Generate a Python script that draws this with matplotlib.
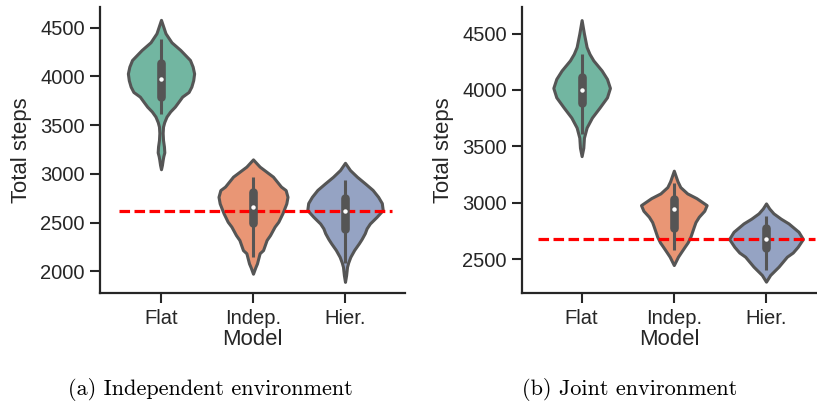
"""
Violin plots of total steps per model, for the independent and joint
environments, with the baseline drawn as a red dashed line.
"""
import matplotlib
matplotlib.use("Agg")
import matplotlib.pyplot as plt
import seaborn as sns

MODELS = ["Flat", "Indep.", "Hier."]

# density profiles: (total steps, half width in category units)
INDEP_FLAT_Y = [4580, 4442, 4350, 4271, 4168, 4100, 4030, 3960, 3895, 3840, 3792, 3740,
                3689, 3640, 3587, 3530, 3484, 3420, 3347, 3280, 3220, 3180, 3142, 3090, 3047]
INDEP_FLAT_W = [0.0, 0.049, 0.114, 0.21, 0.315, 0.344, 0.36, 0.35, 0.33, 0.30, 0.23, 0.19,
                0.15, 0.10, 0.06, 0.035, 0.022, 0.018, 0.022, 0.032, 0.036, 0.025, 0.018, 0.01, 0.0]
INDEP_INDEP_Y = [3148, 3074, 2971, 2869, 2833, 2764, 2696, 2595, 2508, 2458, 2371, 2321,
                 2217, 2185, 2080, 2040, 1975]
INDEP_INDEP_W = [0.0, 0.072, 0.217, 0.304, 0.355, 0.375, 0.362, 0.32, 0.275, 0.235, 0.185, 0.148,
                 0.109, 0.072, 0.043, 0.025, 0.0]
INDEP_HIER_Y = [3113, 3039, 2970, 2902, 2835, 2764, 2700, 2628, 2559, 2490, 2440, 2390,
                2330, 2286, 2219, 2148, 2090, 2045, 1960, 1891]
INDEP_HIER_W = [0.0, 0.054, 0.13, 0.217, 0.30, 0.36, 0.40, 0.41, 0.344, 0.27, 0.235, 0.215,
                0.18, 0.15, 0.10, 0.058, 0.035, 0.022, 0.012, 0.0]

JOINT_FLAT_Y = [4619, 4500, 4381, 4320, 4262, 4173, 4098, 4018, 3935, 3845, 3756, 3667,
                3577, 3488, 3414]
JOINT_FLAT_W = [0.0, 0.025, 0.054, 0.085, 0.127, 0.217, 0.275, 0.307, 0.275, 0.195, 0.112, 0.054,
                0.025, 0.018, 0.0]
JOINT_INDEP_Y = [3285, 3191, 3140, 3084, 3042, 2980, 2930, 2877, 2830, 2789, 2700, 2650,
                 2611, 2560, 2523, 2449]
JOINT_INDEP_W = [0.0, 0.04, 0.07, 0.145, 0.245, 0.356, 0.33, 0.271, 0.235, 0.217, 0.18, 0.15,
                 0.117, 0.075, 0.045, 0.0]
JOINT_HIER_Y = [2995, 2950, 2907, 2860, 2818, 2744, 2680, 2611, 2560, 2523, 2435, 2361, 2302]
JOINT_HIER_W = [0.0, 0.035, 0.081, 0.16, 0.244, 0.352, 0.40, 0.344, 0.29, 0.226, 0.136, 0.045, 0.0]

# inner box: whisker low/high, q1/q3, median
INDEP_WHISK = [(3611, 4384), (2148, 2970), (2080, 2936)]
INDEP_BOX = [(3792, 4134), (2497, 2816), (2430, 2754)]
INDEP_MED = [3973, 2662, 2621]
JOINT_WHISK = [(3607, 4321), (2582, 3172), (2405, 2883)]
JOINT_BOX = [(3881, 4119), (2774, 3031), (2597, 2774)]
JOINT_MED = [4000, 2942, 2680]

INDEP_BASELINE = 2622
JOINT_BASELINE = 2680

EDGE = "#555555"
TEXT = "#262626"


def draw_panel(ax, profiles, whisk, box, med, baseline, line_span, colors):
    stats = []
    for ys, ws in profiles:
        stats.append({"coords": ys, "vals": ws, "mean": 0, "median": 0,
                      "min": min(ys), "max": max(ys)})
    widths = [2 * max(ws) for _, ws in profiles]
    parts = ax.violin(stats, positions=range(len(profiles)), widths=widths,
                      showmeans=False, showextrema=False, showmedians=False)
    for body, c in zip(parts["bodies"], colors):
        body.set_facecolor(c)
        body.set_edgecolor(EDGE)
        body.set_linewidth(2.2)
        body.set_joinstyle("round")
        body.set_alpha(1)
        body.set_zorder(1)

    ax.hlines(baseline, line_span[0], line_span[1], colors="red", linewidth=2.3,
              linestyles=(0, (3.3, 1.4)), zorder=2)

    for i in range(len(profiles)):
        ax.plot([i, i], whisk[i], color=EDGE, lw=2.2, solid_capstyle="butt", zorder=3)
        ax.plot([i, i], box[i], color=EDGE, lw=6.2, solid_capstyle="round", zorder=3)
        ax.plot(i, med[i], "o", color="white", ms=3.2, mew=0, zorder=4)

    ax.set_xticks(range(len(MODELS)))
    ax.set_xticklabels(MODELS)
    ax.set_xlabel("Model", fontsize=15.9, color=TEXT, labelpad=1)
    ax.set_ylabel("Total steps", fontsize=15.9, color=TEXT, labelpad=6)
    ax.tick_params(axis="both", labelsize=14.5, colors=TEXT, length=7, width=1.5, pad=4)
    for side in ["top", "right"]:
        ax.spines[side].set_visible(False)
    for side in ["left", "bottom"]:
        ax.spines[side].set_linewidth(1.6)
        ax.spines[side].set_color(TEXT)


def main():
    sns.set_style("ticks")
    plt.rcParams["font.family"] = ["Liberation Sans", "DejaVu Sans"]

    colors = [sns.desaturate(c, 0.75) for c in sns.color_palette("Set2", 3)]

    fig = plt.figure(figsize=(8.17, 4.07), dpi=100)
    ax1 = fig.add_axes([0.1224, 0.2794, 0.3733, 0.7034])
    ax2 = fig.add_axes([0.6389, 0.2794, 0.3611, 0.7034])

    draw_panel(ax1,
               [(INDEP_FLAT_Y, INDEP_FLAT_W), (INDEP_INDEP_Y, INDEP_INDEP_W), (INDEP_HIER_Y, INDEP_HIER_W)],
               INDEP_WHISK, INDEP_BOX, INDEP_MED, INDEP_BASELINE, (-0.457, 2.51), colors)
    ax1.set_xlim(-0.663, 2.652)
    ax1.set_ylim(1774, 4712)
    ax1.set_yticks([2000, 2500, 3000, 3500, 4000, 4500])

    draw_panel(ax2,
               [(JOINT_FLAT_Y, JOINT_FLAT_W), (JOINT_INDEP_Y, JOINT_INDEP_W), (JOINT_HIER_Y, JOINT_HIER_W)],
               JOINT_WHISK, JOINT_BOX, JOINT_MED, JOINT_BASELINE, (-0.477, 2.53), colors)
    ax2.set_xlim(-0.647, 2.553)
    ax2.set_ylim(2199, 4735)
    ax2.set_yticks([2500, 3000, 3500, 4000, 4500])

    # sub-captions in a LaTeX-like serif
    fig.text(210 / 817, 1 - 395 / 407, "(a) Independent environment", family="cmr10",
             fontsize=16, ha="center", va="baseline", color="black")
    fig.text(630 / 817, 1 - 395 / 407, "(b) Joint environment", family="cmr10",
             fontsize=16, ha="center", va="baseline", color="black")

    fig.savefig("out.png", dpi=100)
    plt.close(fig)


if __name__ == "__main__":
    main()
